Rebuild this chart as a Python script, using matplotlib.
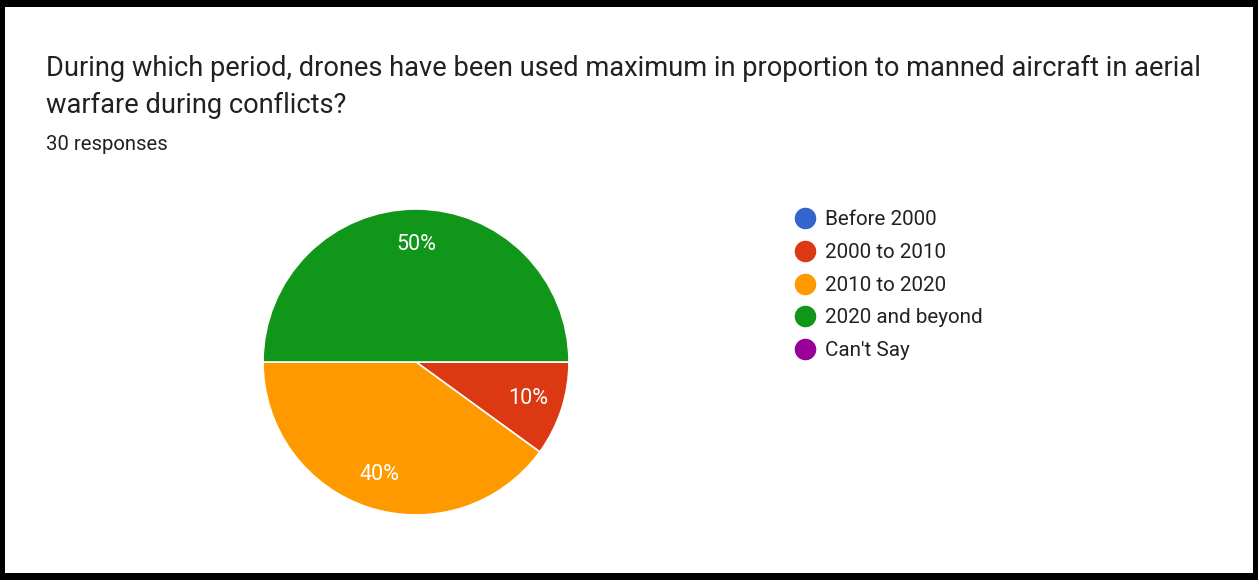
import matplotlib.pyplot as plt
from matplotlib.lines import Line2D
from matplotlib.patches import Rectangle

# survey answers
categories = ["Before 2000", "2000 to 2010", "2010 to 2020", "2020 and beyond", "Can't Say"]
shares = [0, 10, 40, 50, 0]
colors = ["#3366cc", "#dc3912", "#ff9900", "#109618", "#990099"]

title = ("During which period, drones have been used maximum in proportion to manned aircraft in aerial\n"
         "warfare during conflicts?")
subtitle = "30 responses"

W, H = 1258, 580
plt.rcParams['font.family'] = ['Roboto', 'DejaVu Sans']
fig = plt.figure(figsize=(W / 100, H / 100), dpi=100)
fig.patch.set_facecolor("black")
fig.patches.append(Rectangle((5 / W, 7 / H), 1248 / W, 566 / H, transform=fig.transFigure,
                             facecolor="white", edgecolor="none", zorder=-5))

fig.text(46 / W, 1 - 54.5 / H, title, fontsize=19.6, color="#212121", va="top", ha="left",
         linespacing=1.5)
fig.text(46 / W, 1 - 144.5 / H, subtitle, fontsize=14.6, color="#212121", va="center", ha="left")

# pie centred at (416, 361), radius ~153 px
cx, cy, r = 416, 362, 153
ax = fig.add_axes([(cx - r) / W, 1 - (cy + r) / H, 2 * r / W, 2 * r / H])
ax.patch.set_alpha(0)
idx = [i for i, s in enumerate(shares) if s > 0]
wedges, texts, autotexts = ax.pie([shares[i] for i in idx], colors=[colors[i] for i in idx],
                                  startangle=0, counterclock=False, autopct="%1.0f%%",
                                  pctdistance=0.77, radius=1.0,
                                  wedgeprops=dict(edgecolor="white", linewidth=1.2),
                                  textprops=dict(color="white", fontsize=15.5))
ax.set_aspect("equal")
ax.set_xlim(-1.0, 1.0)
ax.set_ylim(-1.0, 1.0)

handles = [Line2D([], [], marker="o", linestyle="none", markersize=14.5,
                  markerfacecolor=c, markeredgecolor=c) for c in colors]
fig.legend(handles, categories, loc="upper left", bbox_to_anchor=(795 / W, 1 - 210.5 / H),
           frameon=False, fontsize=14.9, labelcolor="#222222", handlelength=1.0,
           handletextpad=0.45, labelspacing=0.66, borderpad=0, borderaxespad=0)

fig.savefig("out.png", dpi=100, facecolor=fig.get_facecolor())
